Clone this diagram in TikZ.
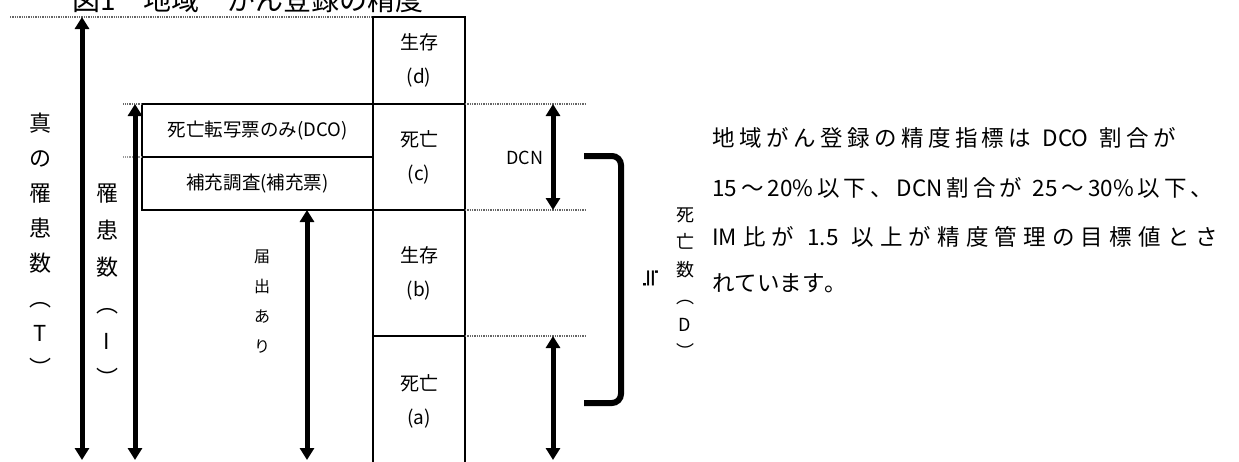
\documentclass[tikz,border=0pt]{standalone}
\usepackage{fontspec}
\setmainfont{Noto Sans CJK JP}
\newfontfamily\symfont{DejaVu Sans}
% CJK characters get class 1, so that the note lines can be spread evenly
\newcount\cjkchar
\cjkchar="3000 \loop \XeTeXcharclass\cjkchar=1 \advance\cjkchar 1 \ifnum\cjkchar<"3100 \repeat
\cjkchar="4E00 \loop \XeTeXcharclass\cjkchar=1 \advance\cjkchar 1 \ifnum\cjkchar<"A000 \repeat
\cjkchar="FF00 \loop \XeTeXcharclass\cjkchar=1 \advance\cjkchar 1 \ifnum\cjkchar<"FFF0 \repeat
\XeTeXinterchartoks 1 1 = {\hskip 0pt plus 1fil\relax}
\XeTeXinterchartoks 0 1 = {\hskip 0pt plus 1fil\relax}
\XeTeXinterchartoks 1 0 = {\hskip 0pt plus 1fil\relax}
\usetikzlibrary{positioning,calc,arrows.meta}
\tikzstyle{arrow} = [{Triangle[width=14pt,length=12pt]}-{Triangle[width=14pt,length=12pt]}, line width=5pt]
\tikzstyle{guide} = [densely dotted, line width=1.3pt, black!60]
\tikzstyle{cell} = [draw, line width=1.5pt, outer sep=0pt, minimum width=92pt, align=center, font=\fontsize{19}{34}\selectfont]
\tikzstyle{box} = [draw, line width=1.5pt, outer sep=0pt, minimum width=231pt, minimum height=53pt, font=\fontsize{18.5}{22}\selectfont]
\tikzstyle{bracket} = [line width=6pt, rounded corners=9pt]
\tikzstyle{vlabel} = [align=center, inner sep=0pt]

\begin{document}
\begin{tikzpicture}[x=1pt, y=-1pt]
    \useasboundingbox (0,0) rectangle (1239,461);
    % Title, cut by the top edge
    \node[font=\fontsize{28}{30}\selectfont, anchor=base west, inner sep=0pt] (title) at (72,10) {図1　地域　がん登録の精度};
    % Nodes
    \node[cell, minimum height=87pt, anchor=north west] (d) at (373,17) {生存\\(d)};
    \node[cell, minimum height=106pt, below=0pt of d] (c) {死亡\\(c)};
    \node[cell, minimum height=126pt, below=0pt of c] (b) {生存\\(b)};
    \node[cell, minimum height=130pt, below=0pt of b] (a) {死亡\\(a)};
    \node[box, anchor=north east] (dco) at (c.north west) {死亡転写票のみ(DCO)};
    \node[box, below=0pt of dco] (hoju) {補充調査(補充票)};
    % Guide lines
    \coordinate (gl) at (10,17);
    \draw[guide] (gl) -- (d.north west);
    \draw[guide] (dco.north west) -- ++(-19,0);
    \draw[guide, black!40] (hoju.north west) -- ++(-19,0);
    \draw[guide] (c.north east) -- ++(121,0);
    \draw[guide] (c.south east) -- ++(121,0);
    \draw[guide] (a.north east) -- ++(121,0);
    % Arrows
    \coordinate (Tx) at (82,460);
    \coordinate (Ix) at (135,460);
    \coordinate (Rx) at (307,460);
    \coordinate (Nx) at (553,460);
    \draw[arrow] (Tx |- d.north) -- (Tx);
    \draw[arrow] (Ix |- dco.north) -- (Ix);
    \draw[arrow] (Rx |- hoju.south) -- (Rx);
    \draw[arrow] (Nx |- c.north) -- (Nx |- c.south);
    \draw[arrow] (Nx |- a.north) -- (Nx);
    % Bracket
    \coordinate (brT) at (584,156);
    \coordinate (brB) at (584,403);
    \draw[bracket] (brT) -- ++(37,0) |- (brB);
    % Labels
    \node[font=\fontsize{18}{20}\selectfont] (dcn) at (525,158) {DCN};
    \node[rotate=90, font=\symfont\fontsize{24}{26}\selectfont] (approx) at (651,278) {≒};
    \node[vlabel, font=\fontsize{22}{35}\selectfont] (true) at (40,245) {真\\の\\罹\\患\\数\\︵\\T\\︶};
    \node[vlabel, font=\fontsize{22}{37}\selectfont] (inc) at (107,285) {罹\\患\\数\\︵\\I\\︶};
    \node[vlabel, font=\fontsize{16}{30}\selectfont] (rep) at (262,302) {届\\出\\あ\\り};
    \node[vlabel, font=\fontsize{18}{27.5}\selectfont] (death) at (685,283) {死\\亡\\数\\︵\\D\\︶};
    % Note
    \foreach \i/\y/\w/\txt in {1/138/464/{地域がん登録の精度指標は DCO 割合が},
                               2/188/501/{15～20\%以下、DCN割合が 25～30\%以下、},
                               3/237/506/{IM比が 1.5 以上が精度管理の目標値とさ},
                               4/283/0/{れています。}}
        \node[anchor=west, inner sep=0pt, font=\fontsize{22.5}{24}\selectfont] (par\i) at (712,\y)
            {\XeTeXinterchartokenstate=1 \spaceskip=0.3em plus 1fil\relax
             \ifnum\w>0 \hbox to \w pt{\txt}\else\txt\fi};
\end{tikzpicture}
\end{document}
